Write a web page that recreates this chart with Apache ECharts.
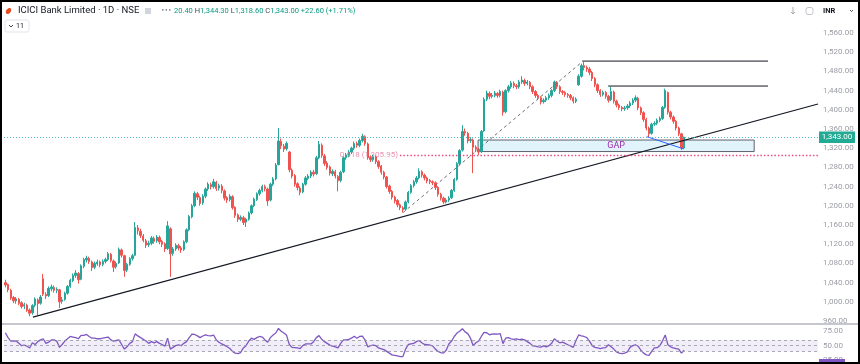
<!DOCTYPE html>
<html><head><meta charset="utf-8">
<script src="https://cdn.jsdelivr.net/npm/echarts@6/dist/echarts.min.js"></script>
<style>html,body{margin:0;padding:0;background:#fff}#c{width:860px;height:364px}</style>
</head><body><div id="c"></div>
<script>
// ---- data ----
const slotCount = 301; // daily slots incl. empty right margin
const categories = Array.from({length: slotCount}, (_, i) => 'D' + i);
// [open, close, low, high]
const ohlc = [
[1040,1035,1030,1046],[1036,1025,1020,1038],[1024,1008,1004,1027],[1009,1002,997,1012],[1002,1006,996,1010],
[1005,997,993,1008],[998,990,986,1001],[991,994,985,998],[993,982,979,996],[983,976,970,986],
[977,992,973,995],[993,1006,989,1009],[1004,996,972,1007],[997,1010,994,1014],[1048,1016,1012,1058],
[1015,1012,1006,1020],[1013,1028,1010,1032],[1027,1031,1022,1036],[1030,1024,1019,1034],[1024,1026,1018,1030],
[1025,1000,987,1027],[1001,1004,996,1010],[1005,1018,1002,1021],[1018,1032,1015,1035],[1032,1045,1029,1048],
[1044,1055,1041,1059],[1055,1060,1050,1066],[1059,1046,1038,1062],[1047,1075,1045,1078],[1074,1088,1070,1092],
[1087,1091,1082,1096],[1090,1084,1079,1094],[1083,1071,1064,1086],[1072,1080,1068,1084],[1079,1083,1075,1088],
[1083,1077,1072,1086],[1078,1084,1074,1088],[1084,1088,1080,1092],[1088,1100,1085,1104],[1099,1086,1082,1102],
[1085,1072,1062,1088],[1073,1080,1069,1084],[1081,1109,1079,1113],[1108,1097,1092,1111],[1096,1065,1052,1098],
[1066,1078,1062,1081],[1078,1090,1075,1093],[1090,1096,1086,1100],[1097,1155,1095,1166],[1154,1148,1140,1160],
[1147,1138,1133,1152],[1137,1128,1124,1141],[1127,1118,1112,1131],[1119,1122,1114,1127],[1122,1133,1118,1137],
[1132,1126,1121,1136],[1127,1135,1123,1139],[1134,1125,1120,1138],[1126,1120,1114,1129],[1121,1110,1104,1124],
[1111,1158,1108,1168],[1152,1100,1052,1155],[1101,1110,1096,1114],[1110,1118,1106,1122],[1117,1112,1107,1121],
[1112,1108,1102,1116],[1109,1125,1106,1128],[1125,1150,1122,1153],[1150,1178,1147,1181],[1177,1200,1174,1204],
[1200,1226,1197,1230],[1225,1218,1212,1229],[1217,1205,1200,1221],[1206,1220,1202,1224],[1220,1235,1216,1238],
[1235,1245,1231,1249],[1244,1240,1234,1248],[1240,1250,1236,1256],[1249,1236,1231,1252],[1237,1242,1232,1246],
[1241,1232,1226,1245],[1231,1216,1211,1234],[1217,1212,1206,1220],[1213,1220,1209,1224],[1219,1196,1192,1222],
[1197,1180,1175,1199],[1181,1172,1166,1184],[1172,1176,1168,1180],[1175,1165,1160,1179],[1166,1172,1156,1175],
[1172,1185,1169,1188],[1185,1200,1182,1203],[1200,1214,1197,1217],[1213,1225,1210,1228],[1225,1232,1221,1236],
[1232,1240,1228,1244],[1240,1236,1230,1244],[1235,1210,1200,1238],[1212,1245,1209,1248],[1245,1256,1241,1260],
[1256,1285,1253,1289],[1286,1335,1284,1362],[1334,1325,1318,1340],[1324,1318,1312,1329],[1319,1330,1315,1334],
[1312,1275,1270,1314],[1274,1262,1257,1278],[1263,1245,1240,1266],[1246,1238,1232,1249],[1237,1228,1222,1241],
[1229,1245,1226,1248],[1245,1258,1242,1262],[1257,1262,1253,1266],[1262,1270,1258,1274],[1270,1266,1261,1275],
[1267,1300,1264,1304],[1300,1328,1297,1335],[1326,1305,1300,1330],[1304,1288,1283,1308],[1289,1280,1275,1293],
[1281,1268,1263,1284],[1267,1272,1262,1276],[1271,1262,1257,1275],[1261,1252,1230,1264],[1253,1270,1249,1273],
[1271,1300,1268,1303],[1300,1306,1296,1310],[1305,1312,1301,1316],[1312,1320,1308,1323],[1320,1330,1316,1334],
[1330,1326,1321,1334],[1326,1336,1322,1340],[1336,1345,1332,1350],[1344,1330,1325,1347],[1329,1300,1296,1332],
[1301,1296,1291,1305],[1296,1302,1292,1306],[1302,1292,1287,1305],[1292,1282,1277,1295],[1283,1270,1265,1285],
[1270,1260,1255,1273],[1260,1240,1236,1262],[1241,1230,1225,1244],[1230,1218,1213,1233],[1218,1210,1205,1221],
[1211,1202,1197,1214],[1202,1196,1191,1205],[1196,1192,1186,1199],[1193,1208,1190,1211],[1208,1228,1205,1231],
[1228,1242,1225,1245],[1242,1250,1238,1254],[1250,1258,1246,1262],[1258,1272,1255,1278],[1271,1264,1259,1274],
[1264,1258,1253,1267],[1258,1252,1247,1261],[1253,1250,1245,1256],[1250,1248,1243,1253],[1248,1238,1233,1251],
[1238,1224,1219,1241],[1224,1216,1211,1227],[1216,1208,1204,1219],[1208,1212,1205,1216],[1212,1216,1208,1220],
[1217,1232,1214,1235],[1232,1255,1229,1258],[1255,1288,1252,1291],[1288,1315,1285,1318],[1316,1355,1313,1368],
[1355,1352,1346,1361],[1351,1335,1330,1354],[1336,1338,1331,1343],[1337,1322,1268,1340],[1322,1318,1312,1326],
[1318,1312,1306,1321],[1313,1355,1310,1358],[1356,1422,1354,1426],[1422,1435,1418,1440],[1434,1428,1422,1438],
[1428,1430,1424,1435],[1430,1435,1426,1439],[1434,1430,1425,1437],[1430,1438,1426,1442],[1437,1395,1388,1440],
[1396,1440,1393,1443],[1440,1448,1436,1452],[1448,1456,1444,1460],[1455,1450,1445,1459],[1450,1448,1443,1454],
[1448,1458,1444,1462],[1458,1462,1454,1470],[1461,1455,1450,1465],[1455,1458,1451,1462],[1457,1448,1443,1460],
[1448,1438,1433,1451],[1438,1430,1425,1441],[1430,1425,1420,1433],[1425,1416,1411,1428],[1417,1420,1413,1424],
[1420,1425,1416,1429],[1425,1430,1421,1434],[1430,1440,1426,1443],[1440,1458,1437,1461],[1457,1448,1443,1460],
[1448,1438,1433,1451],[1438,1436,1431,1441],[1436,1432,1427,1439],[1432,1430,1425,1435],[1430,1425,1420,1433],
[1425,1418,1413,1428],[1418,1422,1414,1426],[1452,1470,1450,1474],[1470,1492,1467,1496],[1492,1488,1482,1500],
[1488,1485,1479,1492],[1485,1478,1472,1489],[1478,1465,1460,1481],[1465,1452,1447,1468],[1452,1440,1435,1455],
[1440,1432,1427,1443],[1432,1436,1428,1440],[1436,1428,1423,1439],[1428,1420,1415,1431],[1421,1438,1418,1448],
[1437,1418,1413,1440],[1418,1410,1405,1421],[1410,1405,1400,1413],[1405,1402,1397,1408],[1402,1404,1398,1408],
[1404,1408,1400,1412],[1408,1414,1404,1418],[1414,1420,1410,1424],[1420,1425,1416,1430],[1424,1404,1399,1427],
[1404,1394,1389,1407],[1394,1380,1375,1397],[1380,1362,1357,1383],[1362,1350,1343,1365],[1351,1370,1348,1373],
[1370,1372,1366,1376],[1372,1378,1368,1382],[1378,1382,1374,1386],[1382,1405,1379,1408],[1405,1440,1402,1444],
[1436,1395,1390,1438],[1395,1385,1380,1398],[1385,1376,1371,1388],[1376,1362,1357,1379],[1362,1350,1345,1365],
[1350,1320.4,1316,1352],[1320.4,1343,1318.6,1344.3]
];
const rsiValues = [
72.5,64,58,58.5,58,54,50,51,49,46,
55,52,57,60,62,54,56,60,60,58,
47,52,58,62,66,65,64,62,68,68,
69.5,66,63,63,62,62,63,64,65,60,
58,59,60,52,44,48,54,57,70.5,67,
64,61,58,54,57,55,57,54,52,49,
63,44,47,50,51.5,50,54,57,64,70,
69.5,67,64,66.8,68.7,67.5,67,68.5,60,56,
53,51,48,45,40,37,36,38,46,50,
58,63,61,64,66,65,60,56,64,68.7,
72,80,75,72,68,52,47,46.5,46,45,
50,53,53,53,57,64,67.5,61,57,54,
51,49,48,46,54,60,60,61,63,66.5,
63,66,66.8,60,48,50,51,50,46,44.5,
43,40,37,34,33,32,31,31,44,52,
53,54,57,59,55,52,51.6,51,49.7,44,
40,38,37,42,53,58,66,72,75,79.5,
74,71,63,50,55,58,66,73,72.5,69,
70,70.5,70,71,53.5,63,64,62,61,62,
60.5,61.5,60,57,54,49.7,49,48,47.5,49.7,
48,50,54,62,58,55,56,54,51.6,49.7,
47,59,68.7,67,66,64,58,50,47,46,
45,46,46.5,51.6,48,44,39,37,36,37,
39,47,50,51.5,49,42,37,34,33,40,
46,46.5,50,58,68.7,51.6,48,46,45,44,
37,42
];
const priceTicks = {min: 960, max: 1560, step: 40};
const lastPrice = 1343.00;
const lastRsi = '41.31';
// drawings (slot index, price)
const trendLine = [[10.2, 968], [300.5, 1412]];
const fibDiagonal = [[147.1, 1186], [213.3, 1500]];
const resistance1 = [[213.3, 1501.5], [282, 1501.5]];
const resistance2 = [[222.9, 1449.5], [282, 1449.5]];
const blueLine = [[237.2, 1344], [250.8, 1318.6]];
const gapZone = [[174.8, 1337], [276.9, 1313]];
const fibLevel = {label: '0.618 (1,305.95)', price: 1305.95, from: 145.9, to: 300.5};
const rsiLevels = [60, 50, 40];

// ---- chart ----
const chart = echarts.init(document.getElementById('c'), null, {renderer: 'canvas'});
const fmt = v => Number(v).toLocaleString('en-US', {minimumFractionDigits: 2, maximumFractionDigits: 2});
const font = 'Roboto, "Liberation Sans", sans-serif';
const axisLab = {color: '#9a9da5', fontSize: 8, fontFamily: font, margin: 5};

const option = {
  animation: false,
  backgroundColor: '#fff',
  grid: [
    {left: 4, right: 42, top: 33, height: 288},
    {left: 4, right: 42, top: 325, height: 53.5}
  ],
  xAxis: [
    {type: 'category', data: categories, gridIndex: 0, show: false},
    {type: 'value', gridIndex: 0, min: -0.5, max: slotCount - 0.5, show: false},
    {type: 'category', data: categories, gridIndex: 1, show: false}
  ],
  yAxis: [
    {type: 'value', gridIndex: 0, position: 'right', min: priceTicks.min, max: priceTicks.max, interval: priceTicks.step,
     splitLine: {show: false}, axisLine: {show: false}, axisTick: {show: false},
     axisLabel: Object.assign({formatter: fmt}, axisLab)},
    {type: 'value', gridIndex: 1, position: 'right', min: 25, max: 86, interval: 25,
     splitLine: {show: false}, axisLine: {show: false}, axisTick: {show: false},
     axisLabel: Object.assign({formatter: fmt, showMaxLabel: false}, axisLab)}
  ],
  series: [
    { // gap zone host
      type: 'line', xAxisIndex: 1, yAxisIndex: 0, data: resistance1, symbol: 'none', z: 1, silent: true,
      lineStyle: {color: '#131722', width: 1},
      markArea: {silent: true,
        itemStyle: {color: '#e2f4fb', borderColor: '#5d606b', borderWidth: 1},
        label: {show: true, position: 'inside', formatter: 'GAP', color: '#9c27b0', fontSize: 9, fontFamily: font},
        data: [[{coord: gapZone[0]}, {coord: gapZone[1]}]]}
    },
    {
      type: 'candlestick', xAxisIndex: 0, yAxisIndex: 0, data: ohlc, z: 3, barWidth: '70%',
      itemStyle: {color: '#26a69a', color0: '#ef5350', borderColor: '#26a69a', borderColor0: '#ef5350', borderWidth: 1},
      markLine: {silent: true, symbol: 'none', label: {show: false},
        lineStyle: {color: '#3fb1c4', type: [1, 2], width: 1, opacity: 0.9},
        data: [{yAxis: lastPrice}]}
    },
    {type: 'line', xAxisIndex: 1, yAxisIndex: 0, data: resistance2, symbol: 'none', z: 4, silent: true,
     lineStyle: {color: '#131722', width: 1}},
    {type: 'line', xAxisIndex: 1, yAxisIndex: 0, data: trendLine, symbol: 'none', z: 4, silent: true,
     lineStyle: {color: '#131722', width: 1.2}},
    {type: 'line', xAxisIndex: 1, yAxisIndex: 0, data: fibDiagonal, symbol: 'none', z: 4, silent: true,
     lineStyle: {color: '#6a6d78', width: 1, type: [3, 3]}},
    {type: 'line', xAxisIndex: 1, yAxisIndex: 0, data: blueLine, symbol: 'none', z: 4, silent: true,
     lineStyle: {color: '#2962ff', width: 1}},
    {type: 'line', xAxisIndex: 1, yAxisIndex: 0, data: [], symbol: 'none', z: 2, silent: true,
     markLine: {silent: true, symbol: 'none',
       lineStyle: {color: '#e91e63', type: [1.5, 2], width: 1.3, opacity: 0.8},
       label: {show: true, position: 'start', formatter: fibLevel.label, color: '#e5739b', fontSize: 8, fontFamily: font, distance: 2},
       data: [[{coord: [fibLevel.from, fibLevel.price]}, {coord: [fibLevel.to, fibLevel.price]}]]}
    },
    {
      type: 'line', xAxisIndex: 2, yAxisIndex: 1, data: rsiValues, symbol: 'none', silent: true,
      lineStyle: {color: '#7e57c2', width: 1.3}, z: 3,
      markArea: {silent: true, itemStyle: {color: 'rgba(126,87,194,0.1)'},
        data: [[{yAxis: rsiLevels[0]}, {yAxis: rsiLevels[2]}]]},
      markLine: {silent: true, symbol: 'none', label: {show: false},
        lineStyle: {color: '#9598a1', type: [3, 3], width: 1, opacity: 0.8},
        data: rsiLevels.map(v => ({yAxis: v}))}
    }
  ],
  graphic: [
    {type: 'line', shape: {x1: 0, y1: 324, x2: 860, y2: 324}, style: {stroke: '#c5c7cc', lineWidth: 2}, z: 50},
    {type: 'rect', shape: {x: 1, y: 1, width: 858, height: 362}, style: {fill: 'none', stroke: '#000', lineWidth: 2}, z: 100},
    // header
    {type: 'ellipse', shape: {cx: 8.5, cy: 11, rx: 2.2, ry: 3.4}, rotation: -0.7, originX: 8.5, originY: 11, style: {fill: '#e8491d'}, z: 60},
    {type: 'text', x: 18, y: 11, style: {text: 'ICICI Bank Limited · 1D · NSE', fill: '#131722', fontSize: 9.5, fontFamily: font, verticalAlign: 'middle'}, z: 60},
    {type: 'rect', shape: {x: 145, y: 8, width: 6, height: 6}, style: {fill: '#d1d4dc'}, z: 60},
    {type: 'text', x: 161, y: 10.5, style: {text: '•••', fill: '#787b86', fontSize: 6, fontFamily: 'DejaVu Sans', verticalAlign: 'middle'}, z: 60},
    {type: 'text', x: 174, y: 11, style: {
      text: '{v|20.40} {k|H}{v|1,344.30} {k|L}{v|1,318.60} {k|C}{v|1,343.00} {v|+22.60 (+1.71%)}',
      verticalAlign: 'middle', fontFamily: font, fontSize: 7.5,
      rich: {v: {fill: '#089981', fontSize: 7.5, fontFamily: font}, k: {fill: '#434651', fontSize: 7.5, fontFamily: font}}}, z: 60},
    {type: 'rect', shape: {x: 5, y: 20, width: 24, height: 12, r: 2}, style: {fill: '#fff', stroke: '#e0e3eb', lineWidth: 1}, z: 60},
    {type: 'polyline', shape: {points: [[9, 25], [11, 27], [13, 25]]}, style: {stroke: '#131722', lineWidth: 0.8, fill: 'none'}, z: 61},
    {type: 'text', x: 16, y: 26.5, style: {text: '11', fill: '#131722', fontSize: 7, fontFamily: font, verticalAlign: 'middle'}, z: 61},
    // top-right icons
    {type: 'polyline', shape: {points: [[793, 7], [793, 14]]}, style: {stroke: '#9598a1', lineWidth: 0.8}, z: 60},
    {type: 'polyline', shape: {points: [[791, 12], [793, 14], [795, 12]]}, style: {stroke: '#9598a1', lineWidth: 0.8, fill: 'none'}, z: 60},
    {type: 'rect', shape: {x: 806, y: 7.5, width: 7, height: 7, r: 2}, style: {fill: 'none', stroke: '#b2b5be', lineWidth: 0.8}, z: 60},
    {type: 'text', x: 823, y: 11, style: {text: 'INR', fill: '#131722', fontSize: 7.5, fontWeight: 'bold', fontFamily: font, verticalAlign: 'middle'}, z: 60},
    {type: 'polyline', shape: {points: [[850, 10], [851.5, 11.5], [853, 10]]}, style: {stroke: '#434651', lineWidth: 0.9, fill: 'none'}, z: 60},
    // price labels
    {type: 'rect', shape: {x: 819, y: 131.5, width: 36, height: 11.5}, style: {fill: '#22ab94'}, z: 60},
    {type: 'text', x: 837, y: 137.3, style: {text: fmt(lastPrice), fill: '#fff', fontSize: 8, fontFamily: font, align: 'center', verticalAlign: 'middle'}, z: 61},
    {type: 'rect', shape: {x: 819, y: 359, width: 26, height: 12}, style: {fill: '#7e57c2'}, z: 60},
    {type: 'text', x: 832, y: 365, style: {text: lastRsi, fill: '#fff', fontSize: 8, fontFamily: font, align: 'center', verticalAlign: 'middle'}, z: 61}
  ]
};
chart.setOption(option);
</script></body></html>
